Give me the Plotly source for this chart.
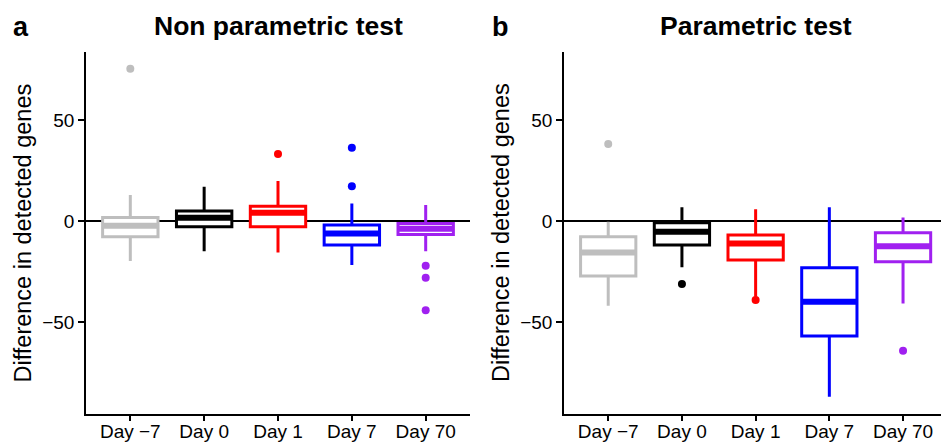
import plotly.graph_objects as go

categories = ["Day \u22127", "Day 0", "Day 1", "Day 7", "Day 70"]
colors = ["#BEBEBE", "#000000", "#FF0000", "#0000FF", "#A020F0"]

# Panel a: Non parametric test
a_lower = [-19.8, -14.9, -15.5, -21.8, -14.9]
a_q1 = [-7.8, -2.8, -2.8, -11.9, -6.6]
a_median = [-2.3, 1.6, 4.1, -6.1, -3.8]
a_q3 = [1.8, 5.0, 7.4, -2.0, -1.2]
a_upper = [12.9, 17.0, 19.8, 8.7, 7.9]
a_outliers = [[75.4], [], [33.2], [36.3, 17.2], [-22.1, -28.1, -44.1]]

# Panel b: Parametric test
b_lower = [-41.9, -22.9, -37.5, -87.0, -40.8]
b_q1 = [-27.2, -11.9, -19.3, -56.9, -20.1]
b_median = [-15.5, -5.3, -11.1, -39.9, -12.4]
b_q3 = [-7.8, -0.8, -6.9, -23.1, -5.8]
b_upper = [-0.3, 6.8, 5.8, 6.8, 1.8]
b_outliers = [[38.1], [-31.2], [-39.1], [], [-64.2]]

W, H = 941, 442
FONT = "Liberation Sans, Arial, sans-serif"
BOXW = 0.75

fig = go.Figure()

panels = [
    ("x", "y", a_lower, a_q1, a_median, a_q3, a_upper, a_outliers),
    ("x2", "y2", b_lower, b_q1, b_median, b_q3, b_upper, b_outliers),
]
for xa, ya, lo, q1, med, q3, up, outs in panels:
    for i, cat in enumerate(categories):
        c = colors[i]
        fig.add_trace(go.Box(
            x=[i], q1=[q1[i]], median=[med[i]], q3=[q3[i]],
            lowerfence=[lo[i]], upperfence=[up[i]],
            width=BOXW, line=dict(color=c, width=3), fillcolor="white",
            whiskerwidth=0, boxpoints=False, xaxis=xa, yaxis=ya,
            showlegend=False, hoverinfo="skip"))
        fig.add_trace(go.Scatter(
            x=[i - BOXW / 2, i + BOXW / 2], y=[med[i], med[i]], mode="lines",
            line=dict(color=c, width=6), xaxis=xa, yaxis=ya,
            showlegend=False, hoverinfo="skip"))
        if outs[i]:
            fig.add_trace(go.Scatter(
                x=[i] * len(outs[i]), y=outs[i], mode="markers",
                marker=dict(color=c, size=8, line=dict(width=0)),
                xaxis=xa, yaxis=ya, showlegend=False, hoverinfo="skip"))

ydom = [1 - 414 / H, 1 - 52 / H]
axis_common = dict(
    showline=True, linecolor="black", linewidth=1.5, mirror=False,
    ticks="outside", ticklen=6, tickwidth=1.5, tickcolor="black",
    showgrid=False, automargin=False,
    tickfont=dict(family=FONT, size=19, color="black"),
)
yaxis_common = dict(axis_common, range=[-95.5, 83.7], tickvals=[-50, 0, 50],
                    ticktext=["\u221250", "0", "50"], zeroline=True,
                    zerolinecolor="black", zerolinewidth=1.5, domain=ydom)
xaxis_common = dict(axis_common, ticklen=5, ticklabelstandoff=-6,
                    tickvals=list(range(5)), ticktext=categories, zeroline=False)

fig.update_layout(
    width=W, height=H, margin=dict(l=0, r=0, t=0, b=0),
    paper_bgcolor="white", plot_bgcolor="white",
    font=dict(family=FONT, color="black"),
    boxmode="overlay",
    xaxis=dict(xaxis_common, domain=[86 / W, 470 / W], range=[-0.6, 4.6], anchor="y"),
    yaxis=dict(yaxis_common, anchor="x"),
    xaxis2=dict(xaxis_common, domain=[564 / W, 1.0], range=[-0.6, 4.515], anchor="y2"),
    yaxis2=dict(yaxis_common, anchor="x2"),
)

annots = [
    dict(text="<b>a</b>", x=11 / W, y=1 - 27 / H, xanchor="left", size=27),
    dict(text="<b>b</b>", x=490 / W, y=1 - 27 / H, xanchor="left", size=27),
    dict(text="<b>Non parametric test</b>", x=278 / W, y=1 - 26 / H, xanchor="center", size=26.5),
    dict(text="<b>Parametric test</b>", x=755.7 / W, y=1 - 26 / H, xanchor="center", size=26.5),
]
for an in annots:
    fig.add_annotation(text=an["text"], x=an["x"], y=an["y"], xref="paper", yref="paper",
                       xanchor=an["xanchor"], yanchor="middle", showarrow=False,
                       font=dict(family=FONT, size=an["size"], color="black"))
for xc in [22.5 / W, 501 / W]:
    fig.add_annotation(text="Difference in detected genes", x=xc, y=1 - 233 / H,
                       xref="paper", yref="paper", xanchor="center", yanchor="middle",
                       textangle=-90, showarrow=False,
                       font=dict(family=FONT, size=23.5, color="black"))

fig.write_html("out.html")
